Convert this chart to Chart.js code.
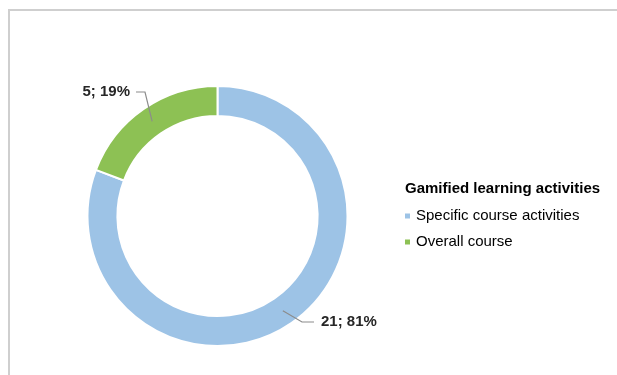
<!DOCTYPE html>
<html>
<head>
<meta charset="utf-8">
<script src="https://cdn.jsdelivr.net/npm/chart.js@4/dist/chart.umd.min.js"></script>
<style>
  html, body { margin: 0; padding: 0; background: #fff; }
  canvas { display: block; }
</style>
</head>
<body>
<canvas id="activitiesChart" width="617" height="375"></canvas>
<script>
// Chart data
const legendTitle = 'Gamified learning activities';
const categories = ['Specific course activities', 'Overall course'];
const counts = [21, 5];
const colors = ['#9dc3e6', '#8dc154'];

const total = counts.reduce((a, b) => a + b, 0);
const labelText = counts.map(v => `${v}; ${Math.round(v / total * 100)}%`);

// Where each data label sits and how its leader line bends
const labelLayout = [
  { x: 321, y: 322, align: 'left', elbow: [[302, 322], [314, 322]] },
  { x: 130, y: 92, align: 'right', elbow: [[145, 92], [136, 92]] }
];

// Frame lines along the top and left edges
const framePlugin = {
  id: 'frame',
  beforeDraw(chart) {
    const c = chart.ctx;
    c.save();
    c.fillStyle = '#fff';
    c.fillRect(0, 0, chart.width, chart.height);
    c.strokeStyle = '#cfcfcf';
    c.lineWidth = 2;
    c.beginPath();
    c.moveTo(9, chart.height);
    c.lineTo(9, 10);
    c.lineTo(chart.width, 10);
    c.stroke();
    c.restore();
  }
};

// Value labels with leader lines
const dataLabelPlugin = {
  id: 'dataLabels',
  afterDatasetsDraw(chart) {
    const c = chart.ctx;
    const arcs = chart.getDatasetMeta(0).data;
    c.save();
    arcs.forEach((arc, i) => {
      const lay = labelLayout[i];
      const p = arc.getCenterPoint();
      c.strokeStyle = '#8c8c8c';
      c.lineWidth = 1.2;
      c.beginPath();
      c.moveTo(p.x, p.y);
      lay.elbow.forEach(pt => c.lineTo(pt[0], pt[1]));
      c.stroke();
      c.fillStyle = '#262626';
      c.font = 'bold 15px "Liberation Sans", Arial, sans-serif';
      c.textAlign = lay.align;
      c.textBaseline = 'middle';
      c.fillText(labelText[i], lay.x, lay.y);
    });
    c.restore();
  }
};

// Legend with title on the right side
const sideLegendPlugin = {
  id: 'sideLegend',
  afterDraw(chart) {
    const c = chart.ctx;
    const x = 405;
    c.save();
    c.fillStyle = '#000';
    c.textAlign = 'left';
    c.textBaseline = 'middle';
    c.font = 'bold 15px "Liberation Sans", Arial, sans-serif';
    c.fillText(legendTitle, x, 189);
    c.font = '15px "Liberation Sans", Arial, sans-serif';
    categories.forEach((name, i) => {
      const y = 216 + i * 26;
      c.fillStyle = colors[i];
      c.fillRect(x, y - 2.5, 5, 5);
      c.fillStyle = '#000';
      c.fillText(name, x + 11, y);
    });
    c.restore();
  }
};

const ctx = document.getElementById('activitiesChart').getContext('2d');
const activitiesChart = new Chart(ctx, {
  type: 'doughnut',
  data: {
    labels: categories,
    datasets: [{
      data: counts,
      backgroundColor: colors,
      borderColor: '#ffffff',
      borderWidth: 2
    }]
  },
  options: {
    responsive: false,
    animation: false,
    cutout: '77%',
    layout: {
      padding: { left: 86, top: 85, right: 268, bottom: 28 }
    },
    plugins: {
      legend: { display: false },
      tooltip: { enabled: false }
    }
  },
  plugins: [framePlugin, dataLabelPlugin, sideLegendPlugin]
});
</script>
</body>
</html>
